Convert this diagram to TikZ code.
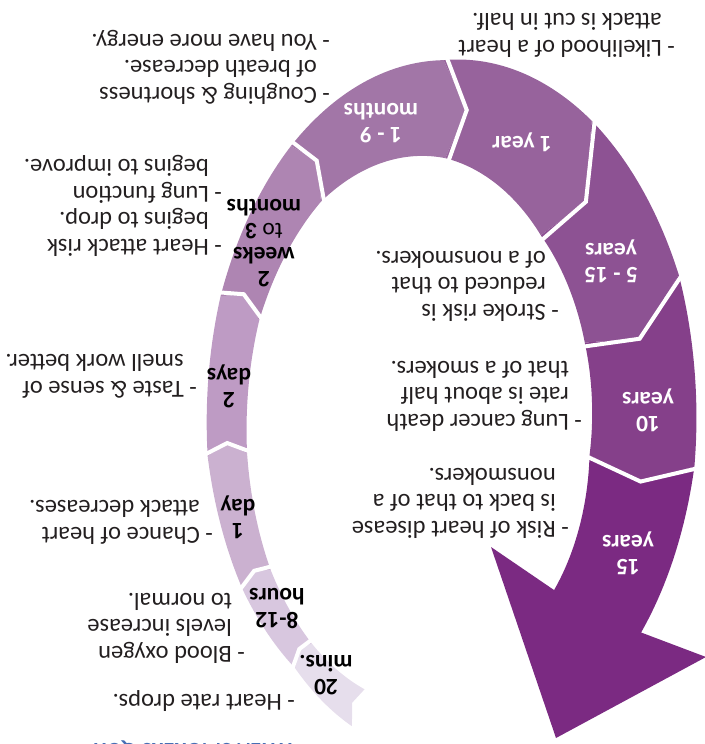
\documentclass[tikz,border=0pt]{standalone}
\usepackage{fontspec}
\setmainfont{Carlito}
\definecolor{c20m}{RGB}{230,222,236}
\definecolor{c812}{RGB}{216,199,223}
\definecolor{c1d}{RGB}{203,177,208}
\definecolor{c2d}{RGB}{190,155,196}
\definecolor{c2w}{RGB}{174,133,178}
\definecolor{c19m}{RGB}{162,118,167}
\definecolor{c1y}{RGB}{151,99,156}
\definecolor{c515}{RGB}{141,82,147}
\definecolor{c10y}{RGB}{133,64,138}
\definecolor{c15y}{RGB}{123,42,130}
\definecolor{titleblue}{RGB}{70,110,180}
\definecolor{desctext}{RGB}{35,31,32}
% one chevron segment of the spiral: colour, start angle, outer, inner, depth, end angle, outer, inner, depth
\newcommand{\spseg}[9]{%
 \fill[#1] plot[domain=#2:#6, samples=40, variable=\t]
   ({px((#3)+((#7)-(#3))*(\t-(#2))/((#6)-(#2)),\t)}, {py((#3)+((#7)-(#3))*(\t-(#2))/((#6)-(#2)),\t)})
  -- ({px(((#7)+(#8))/2,(#6)-(#9))}, {py(((#7)+(#8))/2,(#6)-(#9))})
  -- plot[domain=#6:#2, samples=40, variable=\t]
   ({px((#4)+((#8)-(#4))*(\t-(#2))/((#6)-(#2)),\t)}, {py((#4)+((#8)-(#4))*(\t-(#2))/((#6)-(#2)),\t)})
  -- ({px(((#3)+(#4))/2,(#2)-(#5))}, {py(((#3)+(#4))/2,(#2)-(#5))}) -- cycle;}
% white gap along a cut: angle, outer, inner, depth
\newcommand{\spcut}[4]{%
 \draw[gapline] ({px((#2)+0.03,#1)},{py((#2)+0.03,#1)})
   -- ({px(((#2)+(#3))/2,(#1)-(#4))},{py(((#2)+(#3))/2,(#1)-(#4))})
   -- ({px((#3)-0.03,#1)},{py((#3)-0.03,#1)});}
\begin{document}
\begin{tikzpicture}[x=1pt,y=-1pt,
  declare function={px(\rr,\pp)=450+245*\rr*cos(\pp); py(\rr,\pp)=440-380*\rr*sin(\pp);},
  gapline/.style={white, line width=4pt},
  desc/.style={rotate=180, anchor=base west, inner sep=0pt, text=desctext,
    font=\fontsize{24.5}{26.5}\selectfont},
  lbl/.style={rotate=180, align=center, inner sep=0pt,
    font=\fontsize{23.5}{24}\selectfont\bfseries},
  darklbl/.style={lbl, text=black},
  lightlbl/.style={lbl, text=white}]
\useasboundingbox (0,0) rectangle (704,744);

% spiral segments
\spseg{c20m}{242}{0.853}{0.743}{2}{223.5}{0.872}{0.778}{1.7}
\spseg{c812}{223.5}{0.872}{0.778}{1.7}{205}{0.933}{0.808}{1.7}
\spseg{c1d}{205}{0.933}{0.808}{1.7}{182.5}{0.99}{0.829}{2}
\spseg{c2d}{182.5}{0.99}{0.829}{2}{158}{1.01}{0.84}{2.5}
\spseg{c2w}{158}{1.01}{0.84}{2.5}{130}{1.01}{0.819}{3.5}
\spseg{c19m}{130}{1.01}{0.819}{3.5}{91.5}{1.0}{0.742}{6}
\spseg{c1y}{91.5}{1.0}{0.742}{6}{55.5}{1.02}{0.654}{7}
\spseg{c515}{55.5}{1.02}{0.654}{7}{25}{1.03}{0.607}{6}
\spseg{c10y}{25}{1.03}{0.607}{6}{-4}{1.0}{0.571}{4}
% last segment with arrow head
\fill[c15y] plot[domain=-4:-33, samples=40, variable=\t]
   ({px(1.0+(0.93-1.0)*(\t+4)/(-29),\t)}, {py(1.0+(0.93-1.0)*(\t+4)/(-29),\t)})
  -- (706,657) -- (556,738) -- (491,547) -- (554,590)
  -- plot[domain=-43:-4, samples=40, variable=\t]
   ({px(0.58+(0.571-0.58)*(\t+43)/39,\t)}, {py(0.58+(0.571-0.58)*(\t+43)/39,\t)})
  -- ({px(0.7855,-8)}, {py(0.7855,-8)}) -- cycle;

% white gaps between segments
\spcut{223.5}{0.872}{0.778}{1.7}
\spcut{205}{0.933}{0.808}{1.7}
\spcut{182.5}{0.99}{0.829}{2}
\spcut{158}{1.01}{0.84}{2.5}
\spcut{130}{1.01}{0.819}{3.5}
\spcut{91.5}{1.0}{0.742}{6}
\spcut{55.5}{1.02}{0.654}{7}
\spcut{25}{1.03}{0.607}{6}
\spcut{-4}{1.0}{0.571}{4}

% segment labels
\node[darklbl] (l1) at (326,675) {20\\mins.};
\node[darklbl] (l2) at (277,609) {8-12\\hours};
\node[darklbl] (l3) at (238,517) {1\\day};
\node[darklbl] (l4) at (229,386) {2\\days};
\node[darklbl] (l5) at (264,243) {2\\weeks\\{\normalfont to} 3\\months};
\node[lightlbl] (l6) at (381,123) {1 - 9\\months};
\node[lightlbl] (l7) at (522,142) {1 year};
\node[lightlbl] (l8) at (611,261) {5 - 15\\years};
\node[lightlbl] (l9) at (648,410) {10\\years};
\node[lightlbl] (l10) at (628,553) {15\\years};

% descriptions
\node[desc] (d1) at (675,40) {\begin{tabular}[t]{@{}l@{\ }l@{}}-&Likelihood of a heart\\&attack is cut in half.\end{tabular}};
\node[desc] (d2) at (330,87) {\begin{tabular}[t]{@{}l@{\ }l@{}}-&Coughing \& shortness\\&of breath decrease.\\-&You have more energy.\end{tabular}};
\node[desc] (d3) at (222,239) {\begin{tabular}[t]{@{}l@{\ }l@{}}-&Heart attack risk\\&begins to drop.\\-&Lung function\\&begins to improve.\end{tabular}};
\node[desc] (d4) at (197,381) {\begin{tabular}[t]{@{}l@{\ }l@{}}-&Taste \& sense of\\&smell work better.\end{tabular}};
\node[desc] (d5) at (213,527) {\begin{tabular}[t]{@{}l@{\ }l@{}}-&Chance of heart\\&attack decreases.\end{tabular}};
\node[desc] (d6) at (245,646) {\begin{tabular}[t]{@{}l@{\ }l@{}}-&Blood oxygen\\&levels increase\\&to normal.\end{tabular}};
\node[desc] (d7) at (295,694) {\begin{tabular}[t]{@{}l@{\ }l@{}}-&Heart rate drops.\end{tabular}};
\node[desc] (d8) at (569,521) {\begin{tabular}[t]{@{}l@{\ }l@{}}-&Risk of heart disease\\&is back to that of a\\&nonsmokers.\end{tabular}};
\node[desc] (d9) at (582,414) {\begin{tabular}[t]{@{}l@{\ }l@{}}-&Lung cancer death\\&rate is about half\\&that of a smokers.\end{tabular}};
\node[desc] (d10) at (559,304) {\begin{tabular}[t]{@{}l@{\ }l@{}}-&Stroke risk is\\&reduced to that\\&of a nonsmokers.\end{tabular}};

% title, cut off by the lower edge
\node[rotate=180, anchor=base, inner sep=0pt, text=titleblue, font=\fontsize{22}{24}\selectfont\bfseries] (title) at (193,743.5) {WHEN SMOKERS QUIT};
\end{tikzpicture}
\end{document}
